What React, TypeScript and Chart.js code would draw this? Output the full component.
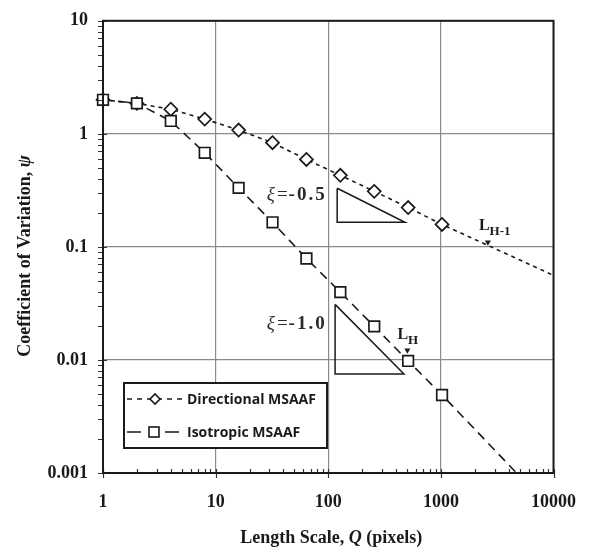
import React, { useEffect, useRef } from "react";
import { Chart, registerables } from "chart.js";

Chart.register(...registerables);

// ---- data ----
const lengthScales = [1, 2, 4, 8, 16, 32, 64, 128, 256, 512, 1024];
const directionalCV = [2.0, 1.86, 1.65, 1.35, 1.08, 0.835, 0.594, 0.43, 0.31, 0.223, 0.158];
const isotropicCV = [2.0, 1.86, 1.3, 0.68, 0.333, 0.165, 0.079, 0.0398, 0.0198, 0.0098, 0.0049];
const directionalTrendEnd = { x: 10000, y: 0.056 };
const isotropicTrendEnd = { x: 4700, y: 0.001 };

const xDecades = [1, 10, 100, 1000, 10000];
const xTickLabels = ["1", "10", "100", "1000", "10000"];
const yDecades = [0.001, 0.01, 0.1, 1, 10];
const yTickLabels = ["0.001", "0.01", "0.1", "1", "10"];

const slopeHalfTriangle = [
  { x: 120, y: 0.33 },
  { x: 120, y: 0.165 },
  { x: 480, y: 0.165 },
  { x: 120, y: 0.33 },
];
const slopeOneTriangle = [
  { x: 115, y: 0.031 },
  { x: 115, y: 0.0075 },
  { x: 470, y: 0.0075 },
  { x: 115, y: 0.031 },
];
const lhMarkers = [
  { x: 2614, y: 0.11 },
  { x: 504, y: 0.0122 },
];
const slopeLabels = [
  { value: "-0.5", x: 93, y: 0.261 },
  { value: "-1.0", x: 93, y: 0.0186 },
];
const lengthLabels = [
  { main: "L", sub: "H-1", x: 2178, y: 0.1406 },
  { main: "L", sub: "H", x: 411, y: 0.01524 },
];
const legendLabels = ["Directional MSAAF", "Isotropic MSAAF"];
const xTitleParts = ["Length Scale, ", "Q", " (pixels)"];
const yTitleParts = ["Coefficient of Variation, ", "\u03C8"];

// ---- helpers ----
const SERIF = '"Liberation Serif", "Times New Roman", serif';
const SANS = '"Open Sans", "Noto Sans", sans-serif';
const INK = "#1a1a1a";

function logTicks(decades: number[]) {
  const out: number[] = [];
  for (let i = 0; i < decades.length - 1; i++) {
    for (let k = 1; k < 10; k++) out.push(+(decades[i] * k).toPrecision(6));
  }
  out.push(decades[decades.length - 1]);
  return out;
}
function decadeIndex(v: number, decades: number[]) {
  return decades.findIndex((d) => Math.abs(d - v) / d < 1e-6);
}

type Run = { text: string; font: string; dy?: number; spacing?: string };
function drawRuns(ctx: CanvasRenderingContext2D, runs: Run[], x: number, y: number, align: "left" | "center" | "right") {
  const c: any = ctx;
  const widths = runs.map((r) => {
    ctx.font = r.font;
    c.letterSpacing = r.spacing || "0px";
    return ctx.measureText(r.text).width;
  });
  const total = widths.reduce((a, b) => a + b, 0);
  let cx = align === "center" ? x - total / 2 : align === "right" ? x - total : x;
  ctx.textAlign = "left";
  ctx.textBaseline = "alphabetic";
  runs.forEach((r, i) => {
    ctx.font = r.font;
    c.letterSpacing = r.spacing || "0px";
    ctx.fillText(r.text, cx, y + (r.dy || 0));
    cx += widths[i];
  });
  c.letterSpacing = "0px";
}

const overlayPlugin = {
  id: "overlay",
  afterDraw(chart: any) {
    const ctx: CanvasRenderingContext2D = chart.ctx;
    const { left, top, right, bottom } = chart.chartArea;
    const xs = chart.scales.x;
    const ys = chart.scales.y;
    ctx.save();

    // axis tick marks
    ctx.strokeStyle = "#333";
    ctx.lineWidth = 1.2;
    ctx.beginPath();
    logTicks(xDecades).forEach((v) => {
      const px = Math.round(xs.getPixelForValue(v)) + 0.5;
      if (decadeIndex(v, xDecades) >= 0) {
        ctx.moveTo(px, bottom - 4);
        ctx.lineTo(px, bottom + 5);
      } else {
        ctx.moveTo(px, bottom - 4);
        ctx.lineTo(px, bottom);
      }
    });
    logTicks(yDecades).forEach((v) => {
      const py = Math.round(ys.getPixelForValue(v)) + 0.5;
      if (decadeIndex(v, yDecades) >= 0) {
        ctx.moveTo(left - 5, py);
        ctx.lineTo(left + 4, py);
      } else {
        ctx.moveTo(left - 5, py);
        ctx.lineTo(left, py);
      }
    });
    ctx.stroke();

    // plot frame
    ctx.strokeStyle = INK;
    ctx.lineWidth = 2;
    ctx.strokeRect(left, top, right - left, bottom - top);

    ctx.fillStyle = "#2a2a2a";
    // slope labels
    slopeLabels.forEach((l) => {
      const px = xs.getPixelForValue(l.x);
      const py = ys.getPixelForValue(l.y);
      drawRuns(
        ctx,
        [
          { text: "\u03BE", font: `italic 19px ${SERIF}`, spacing: "2px" },
          { text: "=", font: `19px ${SERIF}`, spacing: "1px" },
          { text: l.value, font: `bold 19px ${SERIF}`, spacing: "2px" },
        ],
        px + 2,
        py,
        "right"
      );
    });
    // length scale labels
    ctx.fillStyle = INK;
    lengthLabels.forEach((l) => {
      const px = xs.getPixelForValue(l.x);
      const py = ys.getPixelForValue(l.y);
      drawRuns(
        ctx,
        [
          { text: l.main, font: `bold 16px ${SERIF}` },
          { text: l.sub, font: `bold 13px ${SERIF}`, dy: 5 },
        ],
        px,
        py,
        "left"
      );
    });

    // legend
    const bx = 124, by = 383, bw = 203, bh = 65;
    ctx.fillStyle = "#ffffff";
    ctx.fillRect(bx, by, bw, bh);
    ctx.strokeStyle = INK;
    ctx.lineWidth = 2;
    ctx.strokeRect(bx, by, bw, bh);
    const rows = [399, 432];
    ctx.lineWidth = 1.6;
    // row 1: short dashes + diamond
    ctx.setLineDash([5, 5]);
    ctx.beginPath();
    ctx.moveTo(127, rows[0]);
    ctx.lineTo(183, rows[0]);
    ctx.stroke();
    ctx.setLineDash([]);
    ctx.fillStyle = "#fff";
    ctx.beginPath();
    ctx.moveTo(155 - 5, rows[0]);
    ctx.lineTo(155, rows[0] - 5);
    ctx.lineTo(155 + 5, rows[0]);
    ctx.lineTo(155, rows[0] + 5);
    ctx.closePath();
    ctx.fill();
    ctx.stroke();
    // row 2: long dashes + square
    ctx.beginPath();
    ctx.moveTo(127, rows[1]);
    ctx.lineTo(141, rows[1]);
    ctx.moveTo(165, rows[1]);
    ctx.lineTo(179, rows[1]);
    ctx.stroke();
    ctx.fillRect(149, rows[1] - 5, 10, 10);
    ctx.strokeRect(149, rows[1] - 5, 10, 10);
    ctx.fillStyle = INK;
    ctx.font = `bold 14px ${SANS}`;
    ctx.textAlign = "left";
    ctx.textBaseline = "middle";
    ctx.fillText(legendLabels[0], 187, rows[0] + 1);
    ctx.fillText(legendLabels[1], 187, rows[1] + 1);

    // axis titles
    ctx.fillStyle = INK;
    drawRuns(
      ctx,
      [
        { text: xTitleParts[0], font: `bold 18px ${SERIF}` },
        { text: xTitleParts[1], font: `italic bold 18px ${SERIF}` },
        { text: xTitleParts[2], font: `bold 18px ${SERIF}` },
      ],
      (left + right) / 2 + 3,
      543,
      "center"
    );
    ctx.save();
    ctx.translate(30, 256);
    ctx.rotate(-Math.PI / 2);
    drawRuns(
      ctx,
      [
        { text: yTitleParts[0], font: `bold 18px ${SERIF}` },
        { text: yTitleParts[1], font: `italic bold 18px ${SERIF}` },
      ],
      0,
      0,
      "center"
    );
    ctx.restore();

    ctx.restore();
  },
};

export default function App() {
  const ref = useRef<HTMLCanvasElement | null>(null);

  useEffect(() => {
    document.body.style.margin = "0";
    const canvas = ref.current;
    if (!canvas) return;

    const directionalPoints = lengthScales
      .map((x, i) => ({ x, y: directionalCV[i] }))
      .concat([directionalTrendEnd]);
    const isotropicPoints = lengthScales
      .map((x, i) => ({ x, y: isotropicCV[i] }))
      .concat([isotropicTrendEnd]);
    const nMarked = lengthScales.length;

    const tickFont = { family: SERIF, size: 18, weight: "bold" as const };

    const chart = new Chart(canvas, {
      type: "scatter",
      data: {
        datasets: [
          {
            label: "Isotropic MSAAF",
            data: isotropicPoints,
            showLine: true,
            borderColor: INK,
            borderWidth: 1.6,
            borderDash: [9, 6],
            pointStyle: "rect",
            pointRadius: (c: any) => (c.dataIndex < nMarked ? 7.5 : 0),
            pointBorderWidth: 1.7,
            pointBorderColor: INK,
            pointBackgroundColor: "#fff",
            clip: false,
          } as any,
          {
            label: "Directional MSAAF",
            data: directionalPoints,
            showLine: true,
            borderColor: INK,
            borderWidth: 1.6,
            borderDash: [4, 4],
            pointStyle: "rectRot",
            pointRadius: (c: any) => (c.dataIndex < nMarked ? 6.5 : 0),
            pointBorderWidth: 1.7,
            pointBorderColor: INK,
            pointBackgroundColor: "#fff",
            clip: false,
          } as any,
          {
            label: "slope -0.5",
            data: slopeHalfTriangle,
            showLine: true,
            borderColor: INK,
            borderWidth: 1.5,
            pointRadius: 0,
            clip: false,
          } as any,
          {
            label: "slope -1.0",
            data: slopeOneTriangle,
            showLine: true,
            borderColor: INK,
            borderWidth: 1.5,
            pointRadius: 0,
            clip: false,
          } as any,
          {
            label: "L markers",
            data: lhMarkers,
            showLine: false,
            pointStyle: "triangle",
            rotation: 180,
            pointRadius: 3.5,
            pointBorderWidth: 0,
            pointBackgroundColor: INK,
            pointBorderColor: INK,
            clip: false,
          } as any,
        ],
      },
      options: {
        responsive: false,
        animation: false,
        devicePixelRatio: 1,
        events: [],
        layout: { padding: { left: 0, right: 34, top: 13, bottom: 0 } },
        plugins: {
          legend: { display: false },
          tooltip: { enabled: false },
          title: { display: false },
        },
        scales: {
          x: {
            type: "logarithmic",
            min: 1,
            max: 10000,
            afterBuildTicks: (s: any) => {
              s.ticks = logTicks(xDecades).map((value) => ({ value }));
            },
            afterFit: (s: any) => {
              s.height = 79;
            },
            ticks: {
              autoSkip: false,
              maxRotation: 0,
              padding: 14,
              color: INK,
              font: tickFont,
              callback: (v: any) => {
                const i = decadeIndex(Number(v), xDecades);
                return i >= 0 ? xTickLabels[i] : "";
              },
            },
            grid: {
              color: (c: any) => (c.tick && decadeIndex(c.tick.value, xDecades) >= 0 ? "#8a8a8a" : "rgba(0,0,0,0)"),
              tickColor: "rgba(0,0,0,0)",
              tickLength: 5,
              lineWidth: 1.2,
            },
            border: { color: INK, width: 2 },
          } as any,
          y: {
            type: "logarithmic",
            min: 0.001,
            max: 10,
            afterBuildTicks: (s: any) => {
              s.ticks = logTicks(yDecades).map((value) => ({ value }));
            },
            afterFit: (s: any) => {
              s.width = 103;
            },
            ticks: {
              autoSkip: false,
              padding: 10,
              color: INK,
              font: tickFont,
              callback: (v: any) => {
                const i = decadeIndex(Number(v), yDecades);
                return i >= 0 ? yTickLabels[i] : "";
              },
            },
            grid: {
              color: (c: any) => (c.tick && decadeIndex(c.tick.value, yDecades) >= 0 ? "#8a8a8a" : "rgba(0,0,0,0)"),
              tickColor: "rgba(0,0,0,0)",
              tickLength: 5,
              lineWidth: 1.2,
            },
            border: { color: INK, width: 2 },
          } as any,
        },
      },
      plugins: [overlayPlugin],
    });

    return () => {
      chart.destroy();
    };
  }, []);

  return (
    <div style={{ width: 590, height: 552, background: "#fff" }}>
      <canvas ref={ref} width={590} height={552} style={{ display: "block" }} />
    </div>
  );
}
